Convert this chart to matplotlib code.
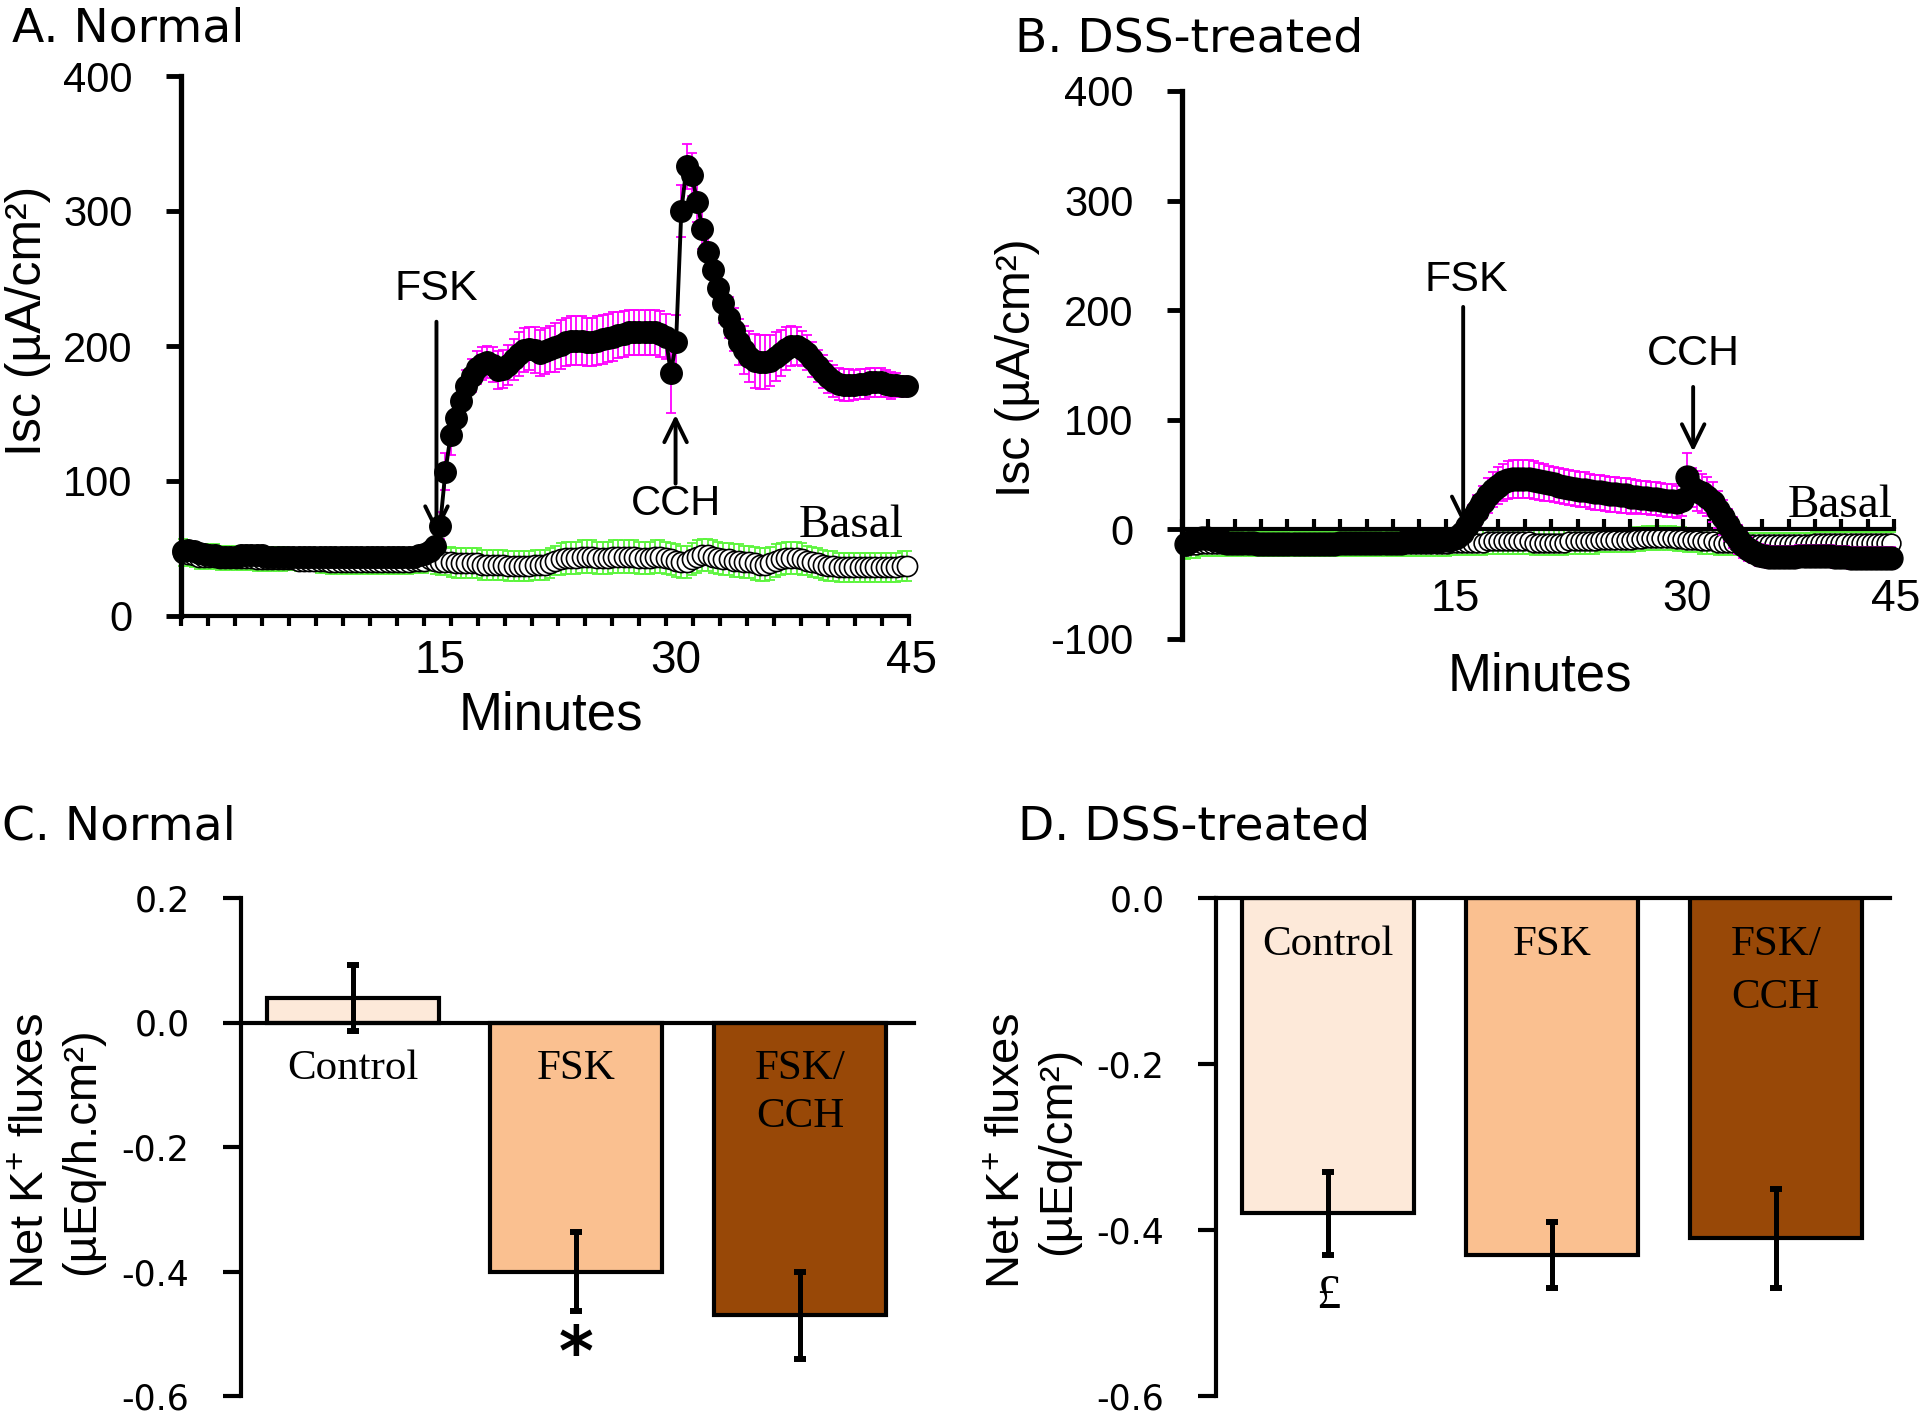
import numpy as np
import matplotlib.pyplot as plt
from matplotlib.ticker import FormatStrFormatter

plt.rcParams['font.family'] = ['Liberation Sans', 'DejaVu Sans']
plt.rcParams['axes.unicode_minus'] = False
plt.rcParams['mathtext.fontset'] = 'custom'
plt.rcParams['mathtext.rm'] = 'Liberation Sans'
plt.rcParams['mathtext.it'] = 'Liberation Sans:italic'

# ---- Panel A: normal colon, Isc every 20 s (minutes, FSK at 15, CCH at 30)
a_stim = [48, 49, 48, 47, 46, 45, 45, 44, 44, 44,
          44, 45, 45, 45, 45, 45, 44, 44, 44, 44,
          44, 44, 44, 44, 44, 44, 44, 44, 44, 44,
          44, 44, 44, 44, 44, 44, 44, 44, 44, 44,
          44, 44, 44, 44, 44, 45, 46, 48,
          52, 67, 107, 134, 147, 159, 170, 178, 184, 187,
          188, 186, 182, 183, 186, 190, 194, 197, 198, 197,
          195, 196, 198, 199, 201, 203, 204, 204, 204, 203,
          203, 204, 205, 206, 207, 208, 209, 210, 210, 210,
          210, 210, 210, 209, 207,
          180, 203, 300, 333, 327, 307, 287, 270, 256, 243,
          232, 221, 212, 203, 197, 192, 189, 188, 188, 189,
          192, 195, 198, 200, 200, 198, 195, 190, 185, 181,
          177, 174, 172, 171, 171, 171, 172, 172, 173, 173,
          173, 172, 171, 171, 170, 170]
a_stim_err = [5, 5, 5, 4, 4, 4, 4, 4, 4, 4,
              4, 4, 4, 4, 4, 4, 4, 4, 4, 4,
              4, 4, 4, 4, 4, 4, 4, 4, 4, 4,
              4, 4, 4, 4, 4, 4, 4, 4, 4, 4,
              4, 4, 4, 4, 4, 4, 4, 5,
              5, 10, 14, 15, 14, 13, 12, 12, 12, 12,
              12, 13, 14, 14, 15, 15, 16, 16, 16, 17,
              17, 17, 17, 18, 18, 18, 18, 18, 18, 18,
              18, 18, 18, 18, 18, 17, 17, 17, 17, 17,
              17, 17, 17, 17, 17,
              30, 20, 19, 17, 16, 15, 15, 14, 14, 14,
              15, 15, 16, 17, 18, 19, 20, 20, 20, 19,
              18, 17, 16, 15, 14, 13, 13, 13, 12, 12,
              12, 12, 12, 12, 12, 11, 11, 11, 11, 11,
              11, 10, 10, 9, 8, 7]
a_basal = [47, 46, 45, 44, 44, 44, 44, 43, 43, 43,
           43, 43, 43, 43, 42, 42, 42, 42, 42, 42,
           42, 42, 41, 41, 41, 41, 41, 41, 40, 40,
           40, 40, 40, 40, 40, 40, 40, 40, 40, 40,
           40, 40, 40, 40, 41, 41, 41, 42,
           41, 40, 40, 40, 39, 39, 39, 39, 39, 38,
           38, 38, 38, 38, 37, 37, 37, 37, 37, 38,
           38, 38, 39, 41, 42, 43, 43, 43, 44, 44,
           44, 43, 43, 43, 44, 44, 44, 44, 44, 43,
           43, 43, 44, 44, 43,
           42, 41, 40, 40, 42, 44, 45, 45, 44, 43,
           42, 42, 41, 41, 40, 40, 39, 38, 38, 39,
           41, 42, 43, 43, 43, 42, 41, 40, 39, 38,
           37, 37, 36, 36, 36, 36, 36, 36, 36, 36,
           36, 36, 36, 36, 37, 37]
a_basal_err = [10, 9, 9, 9, 9, 9, 9, 9, 9, 9,
               9, 9, 9, 9, 9, 9, 9, 9, 9, 9,
               8, 8, 8, 8, 8, 8, 9, 9, 9, 9,
               9, 9, 9, 9, 9, 9, 9, 9, 9, 9,
               9, 9, 9, 9, 9, 9, 9, 9,
               10, 10, 10, 11, 11, 11, 11, 11, 11, 11,
               11, 11, 11, 11, 11, 11, 11, 11, 11, 11,
               11, 11, 11, 11, 12, 12, 12, 12, 12, 12,
               12, 12, 12, 12, 12, 12, 12, 12, 12, 12,
               12, 12, 12, 12, 12,
               12, 12, 12, 12, 12, 12, 12, 12, 12, 12,
               12, 12, 12, 12, 12, 12, 12, 12, 12, 12,
               12, 12, 12, 12, 12, 12, 11, 11, 11, 11,
               11, 11, 11, 11, 11, 11, 11, 11, 11, 11,
               11, 11, 11, 11, 11, 11]

# ---- Panel B: DSS-treated colon
b_stim = [-13, -11, -9, -8, -8, -9, -10, -11, -12, -12,
          -12, -12, -12, -12, -13, -13, -13, -13, -13, -13,
          -13, -13, -13, -13, -13, -13, -13, -13, -13, -13,
          -12, -12, -12, -12, -12, -12, -12, -12, -12, -12,
          -12, -12, -12, -11, -11, -11, -11, -11, -11, -11,
          -10, -10, -9,
          -7, -3, 3, 10, 17, 25, 31, 36, 40, 43,
          45, 46, 46, 46, 46, 45, 44, 43, 42, 41,
          40, 39, 38, 37, 36, 36, 35, 34, 34, 33,
          32, 32, 31, 31, 30, 30, 29, 29, 28, 28,
          27, 26, 26, 25, 27,
          48, 38, 35, 33, 30, 25, 18, 11, 4, -3,
          -9, -14, -18, -21, -23, -24, -25, -25, -25, -25,
          -25, -25, -24, -24, -24, -24, -24, -24, -24, -25,
          -25, -25, -26, -26, -26, -26, -26, -26, -26, -26,
          -26]
b_stim_err = [7, 7, 8, 8, 8, 7, 6, 6, 6, 6,
              6, 6, 6, 6, 6, 6, 6, 6, 6, 6,
              6, 6, 6, 6, 6, 6, 6, 6, 6, 6,
              6, 6, 6, 6, 6, 6, 6, 6, 6, 6,
              6, 6, 6, 6, 6, 6, 6, 6, 6, 6,
              6, 6, 6,
              6, 8, 10, 12, 14, 15, 16, 16, 17, 17,
              17, 17, 17, 17, 17, 17, 17, 17, 16, 16,
              16, 16, 16, 16, 16, 16, 16, 16, 16, 16,
              16, 16, 16, 16, 16, 15, 15, 15, 15, 15,
              15, 15, 15, 15, 15,
              22, 18, 18, 18, 18, 18, 17, 16, 15, 14,
              13, 12, 11, 10, 10, 10, 10, 10, 10, 10,
              10, 10, 10, 10, 10, 10, 10, 10, 10, 10,
              10, 10, 10, 10, 10, 10, 10, 10, 10, 10,
              10]
b_basal = [-15, -14, -14, -13, -13, -13, -13, -13, -13, -13,
           -13, -13, -13, -13, -13, -13, -13, -13, -13, -13,
           -13, -13, -13, -13, -13, -13, -13, -13, -13, -13,
           -13, -13, -13, -13, -13, -13, -13, -13, -13, -13,
           -13, -13, -13, -13, -13, -13, -13, -13, -13, -13,
           -13, -13, -12,
           -12, -12, -12, -12, -12, -12, -11, -11, -11, -11,
           -11, -11, -11, -11, -11, -12, -12, -12, -12, -12,
           -12, -12, -11, -11, -11, -11, -11, -11, -10, -10,
           -10, -10, -10, -10, -10, -9, -9, -8, -8, -8,
           -8, -8, -8, -9, -9,
           -10, -10, -10, -11, -11, -11, -12, -12, -12, -12,
           -12, -13, -13, -13, -13, -13, -13, -13, -13, -13,
           -13, -13, -13, -13, -13, -12, -12, -12, -12, -12,
           -12, -12, -12, -12, -12, -12, -12, -12, -12, -12,
           -12]
b_basal_err = [12, 12, 12, 11, 11, 11, 11, 11, 11, 11,
               11, 11, 11, 11, 11, 11, 11, 11, 11, 11,
               11, 11, 11, 11, 11, 11, 11, 11, 11, 11,
               11, 11, 11, 11, 11, 11, 11, 11, 11, 11,
               11, 11, 11, 11, 11, 11, 11, 11, 11, 11,
               11, 11, 11,
               11, 11, 11, 11, 11, 11, 11, 11, 11, 11,
               11, 11, 11, 11, 11, 11, 11, 11, 11, 11,
               11, 11, 11, 11, 11, 11, 11, 11, 11, 11,
               11, 11, 11, 11, 11, 11, 11, 11, 11, 11,
               11, 11, 11, 11, 11,
               11, 11, 11, 11, 11, 11, 11, 11, 11, 11,
               11, 10, 10, 10, 10, 10, 10, 10, 10, 10,
               10, 10, 10, 10, 10, 10, 10, 10, 10, 10,
               10, 10, 10, 10, 10, 10, 10, 10, 10, 10,
               10]

# sampling grid: one reading every 20 s
minutes_a = -1 + np.arange(len(a_stim)) / 3
minutes_b = -8 / 3 + np.arange(len(b_stim)) / 3

# ---- Panels C/D: net K+ fluxes
groups = ['Control', 'FSK', 'FSK/\nCCH']
normal_flux = [0.04, -0.40, -0.47]
normal_err = [0.053, 0.063, 0.07]
dss_flux = [-0.38, -0.43, -0.41]
dss_err = [0.05, 0.04, 0.06]
bar_colors = ['#FDE9D9', '#FAC090', '#984807']

MAGENTA = '#FF00FF'
GREEN = '#5CF53D'

W, H = 1920, 1414
fig = plt.figure(figsize=(W / 100, H / 100), dpi=100)


def px_axes(l, t, r, b):
    return fig.add_axes([l / W, 1 - b / H, (r - l) / W, (b - t) / H])


def fig_text(x, y, s, **kw):
    return fig.text(x / W, 1 - y / H, s, **kw)


def trace(ax, t, stim, stim_err, basal, basal_err, ms_s, ms_b):
    ax.errorbar(t, basal, yerr=basal_err, fmt='none', ecolor=GREEN,
                elinewidth=1.3, capsize=3.5, capthick=1.3, zorder=1,
                clip_on=False)
    ax.plot(t, basal, '-o', color='black', lw=1.0, ms=ms_b, mfc='white',
            mec='black', mew=1.2, zorder=2, clip_on=False)
    ax.errorbar(t, stim, yerr=stim_err, fmt='none', ecolor=MAGENTA,
                elinewidth=1.3, capsize=3.5, capthick=1.3, zorder=3,
                clip_on=False)
    ax.plot(t, stim, '-o', color='black', lw=2.8, ms=ms_s, mfc='black',
            mec='black', zorder=4, clip_on=False)
    for s in ['top', 'right']:
        ax.spines[s].set_visible(False)
    ax.spines['left'].set_linewidth(3.8)
    ax.spines['bottom'].set_linewidth(3)
    ax.tick_params(axis='y', length=11, width=3.5, labelsize=30, pad=24)


def arrow(ax, x, y0, y1):
    ax.annotate('', xy=(x, y1), xytext=(x, y0),
                arrowprops=dict(arrowstyle='->,head_length=0.55,head_width=0.27',
                                lw=2.8, color='black', shrinkA=0, shrinkB=0,
                                mutation_scale=30), annotation_clip=False)


# ---------------- A
axA = px_axes(181, 76, 909, 616)
trace(axA, minutes_a, a_stim, a_stim_err, a_basal, a_basal_err, 15.5, 14.5)
axA.set_xlim(-1.14, 45.14)
axA.set_ylim(0, 400)
axA.set_yticks([0, 100, 200, 300, 400])
axA.set_xticks(np.linspace(-1.14, 45.14, 28))
axA.set_xticklabels([])
axA.tick_params(axis='x', direction='out', length=7, width=3)
for m in [15, 30, 45]:
    axA.text(m + 0.3, -0.083, str(m), transform=axA.get_xaxis_transform(),
             ha='center', va='center', fontsize=33)
axA.text(0.508, -0.185, 'Minutes', transform=axA.transAxes, ha='center',
         va='center', fontsize=38)
axA.text(15.1, 242, 'FSK', ha='center', va='center', fontsize=31)
arrow(axA, 15.1, 218, 61)
axA.text(30.3, 83, 'CCH', ha='center', va='center', fontsize=30)
arrow(axA, 30.3, 98, 149)
axA.text(41.45, 67, 'Basal', ha='center', va='center', fontsize=34,
         family='Liberation Serif')

# ---------------- B
axB = px_axes(1182, 91, 1894, 639)
trace(axB, minutes_b, b_stim, b_stim_err, b_basal, b_basal_err, 16.5, 13.5)
axB.set_xlim(-2.94, 43.5)
axB.set_ylim(-100, 400)
axB.set_yticks([-100, 0, 100, 200, 300, 400])
axB.spines['bottom'].set_position(('data', 0))
axB.set_xticks(np.linspace(-2.94, 43.5, 28))
axB.set_xticklabels([])
axB.tick_params(axis='x', direction='in', length=7, width=3)
for pos, lab in zip([14.9, 30.0, 43.6], ['15', '30', '45']):
    axB.text(pos, -64, lab, ha='center', va='center', fontsize=32)
axB.text(0.503, -0.069, 'Minutes', transform=axB.transAxes, ha='center',
         va='center', fontsize=38)
axB.text(15.6, 228, 'FSK', ha='center', va='center', fontsize=31)
arrow(axB, 15.4, 203, 5)
axB.text(30.4, 160, 'CCH', ha='center', va='center', fontsize=31)
arrow(axB, 30.4, 130, 71)
axB.text(40.0, 22, 'Basal', ha='center', va='center', fontsize=34,
         family='Liberation Serif')


# ---------------- C / D
def bars(ax, means, errs, ylim, yticks, label_y, line_step):
    x = np.arange(len(means))
    ax.bar(x, means, width=0.77, color=bar_colors, edgecolor='black',
           linewidth=3, zorder=2)
    ax.errorbar(x, means, yerr=errs, fmt='none', ecolor='black',
                elinewidth=3.6, capsize=4.3, capthick=4.3, zorder=3)
    ax.set_xlim(-0.5, 2.51)
    ax.set_ylim(*ylim)
    ax.set_yticks(yticks)
    ax.yaxis.set_major_formatter(FormatStrFormatter('%.1f'))
    ax.set_xticks([])
    for s in ['top', 'right']:
        ax.spines[s].set_visible(False)
    ax.spines['bottom'].set_position(('data', 0))
    ax.spines['bottom'].set_linewidth(3)
    ax.spines['left'].set_linewidth(3)
    ax.tick_params(axis='y', length=13, width=3, labelsize=25, pad=24)
    for lab in ax.get_yticklabels():
        lab.set_family('DejaVu Sans')
    # group names written inside the bars, one line under the other
    for i, g in enumerate(groups):
        for k, line in enumerate(g.split('\n')):
            ax.annotate(line, xy=(i, label_y), xytext=(0, -k * line_step),
                        textcoords='offset points', ha='center',
                        va='baseline', fontsize=31,
                        family='Liberation Serif', zorder=4)


axC = px_axes(241, 898, 914, 1396)
bars(axC, normal_flux, normal_err, (-0.6, 0.2), [0.2, 0.0, -0.2, -0.4, -0.6],
     -0.090, 35)
axC.text(1, -0.567, '*', ha='center', va='baseline', fontsize=48,
         fontweight='bold', family='DejaVu Sans')

axD = px_axes(1216, 898, 1890, 1396)
bars(axD, dss_flux, dss_err, (-0.6, 0.0), [0.0, -0.2, -0.4, -0.6], -0.069,
     38)
axD.text(0, -0.494, '£', ha='center', va='baseline', fontsize=35,
         family='Liberation Serif')

# ---------------- titles and axis labels
fig_text(12, 41, 'A. Normal', family='DejaVu Sans', fontsize=34, va='baseline')
fig_text(1015, 51, 'B. DSS-treated', family='DejaVu Sans', fontsize=34,
         va='baseline')
fig_text(2, 839, 'C. Normal', family='DejaVu Sans', fontsize=34, va='baseline')
fig_text(1018, 839, 'D. DSS-treated', family='DejaVu Sans', fontsize=34,
         va='baseline')

fig_text(28, 321, 'Isc (µA/cm²)', rotation=90, ha='center', va='center',
         fontsize=36)
fig_text(1017, 368, 'Isc (µA/cm²)', rotation=90, ha='center', va='center',
         fontsize=34.5)
fig_text(57, 1151, 'Net K$^{+}$ fluxes\n(µEq/h.cm²)', rotation=90,
         ha='center', va='center', fontsize=34, multialignment='center')
fig_text(1033, 1151, 'Net K$^{+}$ fluxes\n(µEq/cm²)', rotation=90,
         ha='center', va='center', fontsize=34, multialignment='center')

fig.savefig('out.png', dpi=100)
